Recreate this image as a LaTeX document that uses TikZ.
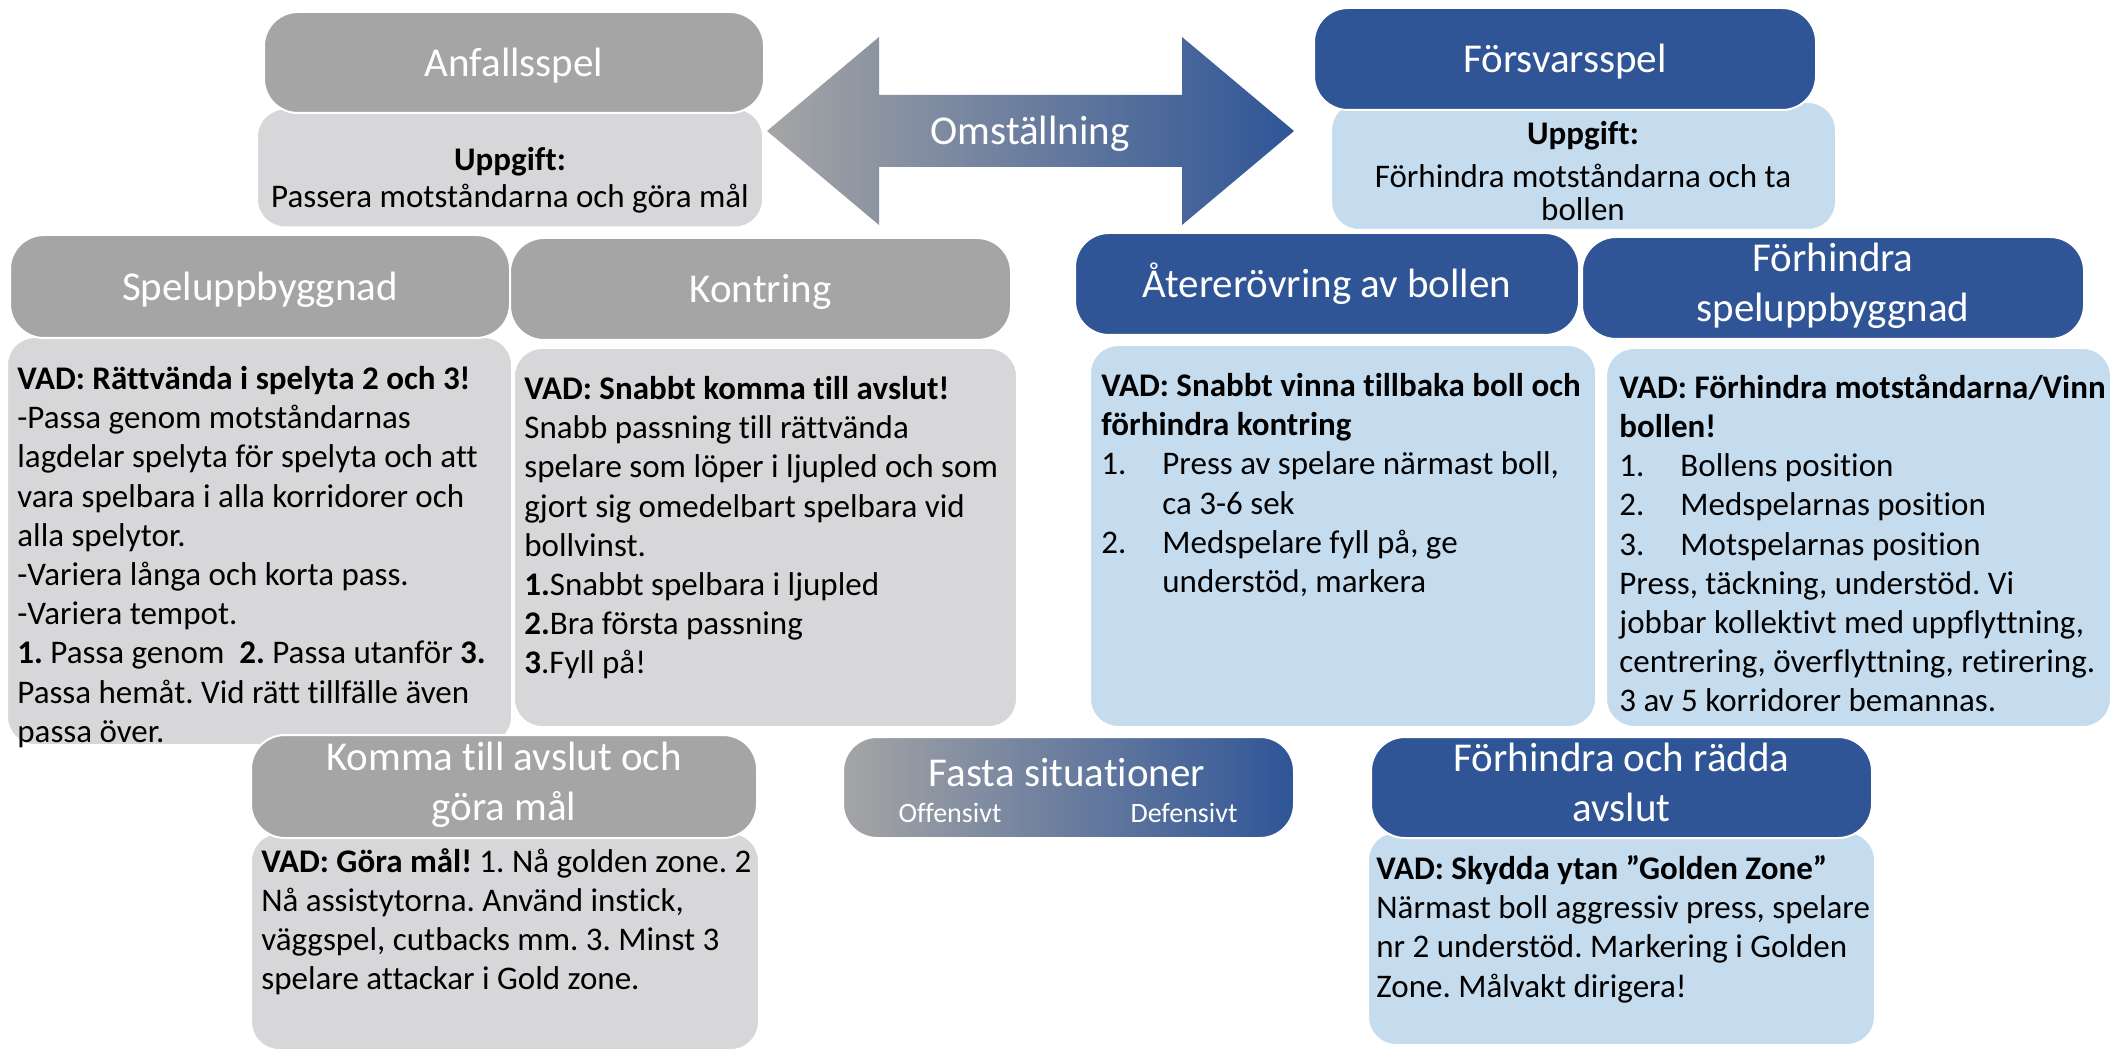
\documentclass[tikz,border=0pt]{standalone}
\usepackage{fontspec}
\setmainfont{Carlito}[Ligatures=NoCommon]
\frenchspacing

\definecolor{headgrey}{HTML}{A5A5A5}
\definecolor{bodygrey}{HTML}{D7D6D8}
\definecolor{headblue}{HTML}{2F5597}
\definecolor{bodyblue}{HTML}{C5DCEF}

\newcommand{\headfont}{\fontsize{20.5}{25}\selectfont}
\newcommand{\bodyfont}{\fontsize{16.5}{19.6}\selectfont}
\newcommand{\numitem}[1]{\makebox[30.5pt][l]{#1}}

\tikzset{
  box/.style={draw=white, line width=1pt, rounded corners=14pt, inner sep=0pt},
  headbox/.style={box, rounded corners=17pt, text=white, font=\headfont, align=center,
    execute at begin node=\rule{0pt}{19.5pt}, execute at end node=\rule[-5.5pt]{0pt}{0pt}},
  greyhead/.style={headbox, fill=headgrey},
  bluehead/.style={headbox, fill=headblue},
  greybody/.style={box, fill=bodygrey},
  bluebody/.style={box, fill=bodyblue},
  bodytext/.style={anchor=north west, inner sep=0pt, align=left, font=\bodyfont},
  tasktext/.style={inner sep=0pt, align=center, font=\bodyfont}
}

\begin{document}
\begin{tikzpicture}[x=0.5pt, y=-0.5pt]
    \fill[white] (0,0) rectangle (2123,1053);
    \useasboundingbox (0,0) rectangle (2123,1053);

    % Omställning
    \shade[left color=headgrey, right color=headblue] (767,131) -- (879,37) -- (879,95)
        -- (1182,95) -- (1182,37) -- (1294,131) -- (1182,225) -- (1182,167)
        -- (879,167) -- (879,225) -- cycle;
    \node[text=white, font=\headfont] (omst) at (1030,134) {Omställning};

    % body boxes
    \node[greybody, minimum width=253pt, minimum height=59.5pt] (anftask) at (510,168) {};
    \node[bluebody, minimum width=252.5pt, minimum height=64pt] (fortask) at (1583.5,166) {};
    \node[greybody, minimum width=252.5pt, minimum height=204pt] (spelbody) at (259.5,541) {};
    \node[greybody, minimum width=251.5pt, minimum height=189.5pt] (kontbody) at (765.5,537.5) {};
    \node[bluebody, minimum width=253pt, minimum height=191pt] (aterbody) at (1343,536) {};
    \node[bluebody, minimum width=252.5pt, minimum height=189.5pt] (hindbody) at (1858.5,537.5) {};
    \node[greybody, minimum width=254pt, minimum height=108.5pt] (kommbody) at (505,941.5) {};
    \node[bluebody, minimum width=253.5pt, minimum height=106.5pt] (raddbody) at (1621.5,938.5) {};

    % headers
    \node[greyhead, minimum width=250pt, minimum height=50.5pt] (anfhead) at (514,62.5) {Anfallsspel};
    \node[bluehead, minimum width=251pt, minimum height=51pt] (forhead) at (1565,59) {Försvarsspel};
    \node[greyhead, minimum width=250pt, minimum height=51.5pt] (spelhead) at (260,286.5) {Speluppbyggnad};
    \node[greyhead, minimum width=250.5pt, minimum height=51pt] (konthead) at (760.5,289) {Kontring};
    \node[bluehead, minimum width=252pt, minimum height=51pt] (aterhead) at (1327,284) {Återerövring av bollen};
    \node[bluehead, minimum width=251pt, minimum height=51pt] (hindhead) at (1833,288) {Förhindra\\speluppbyggnad};
    \node[greyhead, minimum width=253pt, minimum height=51.5pt] (kommhead) at (504,786.5) {Komma till avslut och\\göra mål};
    \node[bluehead, minimum width=250.5pt, minimum height=50.5pt] (raddhead) at (1621.5,787.5) {Förhindra och rädda\\avslut};
    \node[box, rounded corners=17pt, left color=headgrey, right color=headblue,
        minimum width=225.5pt, minimum height=50.5pt] (fasta) at (1068.5,787.5) {};
    \node[text=white, font=\headfont] (fastatitle) at (1067,773) {Fasta situationer};
    \node[text=white, font=\fontsize{14}{17}\selectfont] (offtext) at (950,813) {Offensivt};
    \node[text=white, font=\fontsize{14}{17}\selectfont] (deftext) at (1184,813) {Defensivt};

    % texts
    \node[tasktext] (anftext) at (510,180) {\textbf{Uppgift:}\\[-1pt]Passera motståndarna och göra mål};
    \node[tasktext] (fortext) at (1583,171)
        {\textbf{Uppgift:}\\[1.5pt]Förhindra motståndarna och ta\\[-3.1pt]bollen};

    \node[bodytext] (speltext) at (17,366) {\textbf{VAD: Rättvända i spelyta 2 och 3!}\\
        -Passa genom motståndarnas\\
        lagdelar spelyta för spelyta och att\\
        vara spelbara i alla korridorer och\\
        alla spelytor.\\
        -Variera långa och korta pass.\\
        -Variera tempot.\\
        \textbf{1.} Passa genom\ \ \textbf{2.} Passa utanför \textbf{3.}\\
        Passa hemåt. Vid rätt tillfälle även\\
        passa över.};

    \node[bodytext] (konttext) at (524,376) {\textbf{VAD: Snabbt komma till avslut!}\\
        Snabb passning till rättvända\\
        spelare som löper i ljupled och som\\
        gjort sig omedelbart spelbara vid\\
        bollvinst.\\
        \textbf{1.}Snabbt spelbara i ljupled\\
        \textbf{2.}Bra första passning\\
        \textbf{3}.Fyll på!};

    \node[bodytext] (atertext) at (1101,373) {\textbf{VAD: Snabbt vinna tillbaka boll och}\\
        \textbf{förhindra kontring}\\
        \numitem{1.}Press av spelare närmast boll,\\
        \numitem{}ca 3-6 sek\\
        \numitem{2.}Medspelare fyll på, ge\\
        \numitem{}understöd, markera};

    \node[bodytext] (hindtext) at (1619,374) {\textbf{VAD: Förhindra motståndarna/Vinn}\\
        \textbf{bollen!}\\
        \numitem{1.}Bollens position\\
        \numitem{2.}Medspelarnas position\\
        \numitem{3.}Motspelarnas position\\
        Press, täckning, understöd. Vi\\
        jobbar kollektivt med uppflyttning,\\
        centrering, överflyttning, retirering.\\
        3 av 5 korridorer bemannas.};

    \node[bodytext] (kommtext) at (261,848) {\textbf{VAD: Göra mål!} 1. Nå golden zone. 2\\
        Nå assistytorna. Använd instick,\\
        väggspel, cutbacks mm. 3. Minst 3\\
        spelare attackar i Gold zone.};

    \node[bodytext] (raddtext) at (1376,855) {\textbf{VAD: Skydda ytan ”Golden Zone”}\\
        Närmast boll aggressiv press, spelare\\
        nr 2 understöd. Markering i Golden\\
        Zone. Målvakt dirigera!};

\end{tikzpicture}
\end{document}
